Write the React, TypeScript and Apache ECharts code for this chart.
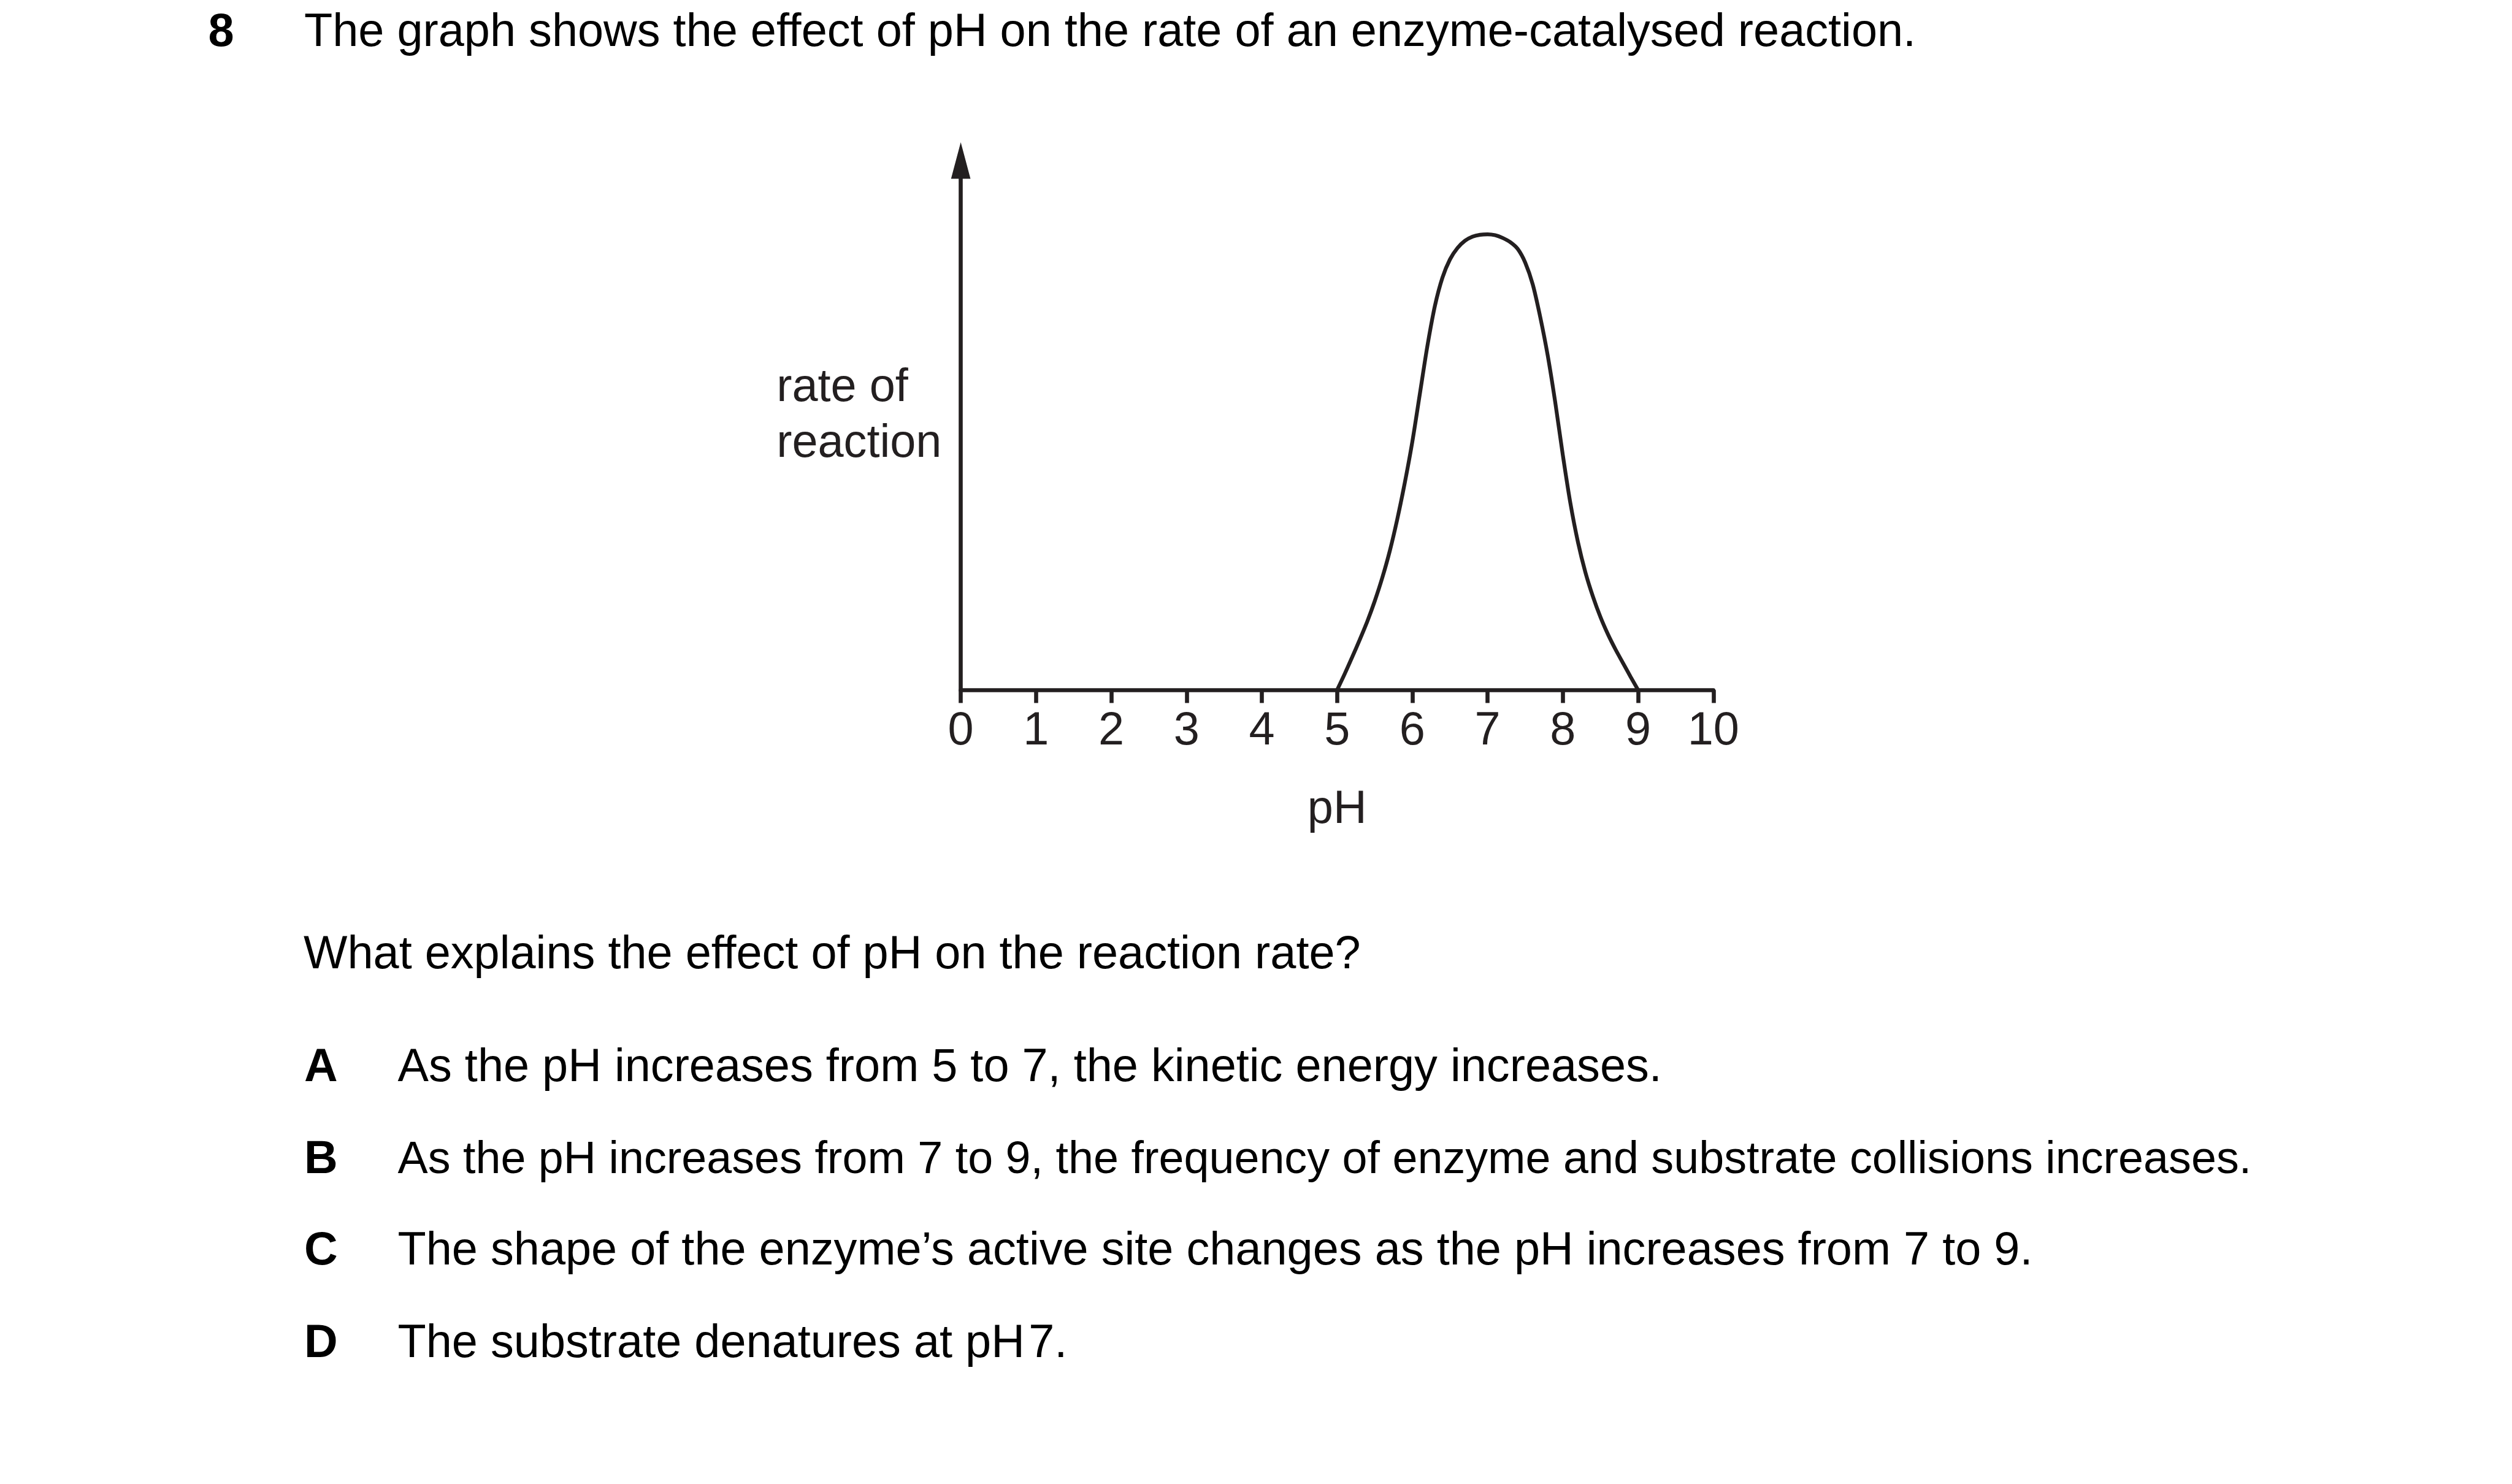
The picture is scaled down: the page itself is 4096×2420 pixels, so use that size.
import React, { useEffect, useRef } from 'react';
import * as echarts from 'echarts';

// ---- data ----
const phMin = 0;
const phMax = 10;
const phInterval = 1;
const rateMax = 116.2; // top of the rate axis (arrow), peak rate = 100

const curvePH = [
  5.0, 5.1, 5.2, 5.3, 5.4, 5.5, 5.6, 5.7, 5.8, 5.9, 6.0, 6.1, 6.2, 6.3, 6.4, 6.5, 6.6, 6.7, 6.8, 6.9,
  7.0,
  7.1, 7.2, 7.3, 7.4, 7.5, 7.6, 7.7, 7.8, 7.9, 8.0, 8.1, 8.2, 8.3, 8.4, 8.5, 8.6, 8.7, 8.8, 8.9, 9.0,
];
const curveRate = [
  0, 3.5, 7.2, 11.0, 15.0, 19.5, 24.6, 30.5, 37.5, 45.5, 54.5, 65.0, 75.5, 84.3, 90.5, 94.5, 97.0, 98.6, 99.5, 99.9,
  100,
  99.8, 99.2, 98.3, 96.8, 93.8, 89.0, 81.8, 73.3, 63.0, 51.5, 41.0, 32.5, 25.8, 20.5, 16.0, 12.2, 8.9, 5.9, 2.9, 0,
];

const questionNumber = '8';
const questionTitle = 'The graph shows the effect of pH on the rate of an enzyme-catalysed reaction.';
const yAxisLabel = 'rate of\nreaction';
const xAxisLabel = 'pH';
const prompt = 'What explains the effect of pH on the reaction rate?';
const optionLetters = ['A', 'B', 'C', 'D'];
const optionTexts = [
  'As the pH increases from 5 to 7, the kinetic energy increases.',
  'As the pH increases from 7 to 9, the frequency of enzyme and substrate collisions increases.',
  'The shape of the enzyme\u2019s active site changes as the pH increases from 7 to 9.',
  'The substrate denatures at pH\u200a7.',
];

// ---- layout / style ----
const W = 4096;
const H = 2420;
const FONT = '"Liberation Sans", Arial, Helvetica, sans-serif';
const FS = 75.7;
const FS_B = 73.7;
const CENTRAL = 0.3465; // central baseline offset (em) above alphabetic baseline
const INK = '#231f20';
const TEXT = '#000000';

const gridLeft = 1566.6;
const gridRightX = 2793.8;
const axisY = 1125.3;
const gridTopY = 261.7;

function txt(x: number, baseline: number, text: string, opts: any = {}) {
  const fs = opts.fontSize || FS;
  return {
    type: 'text',
    x,
    y: baseline - CENTRAL * fs,
    silent: true,
    style: {
      text,
      fontSize: fs,
      fontFamily: FONT,
      fontWeight: opts.fontWeight || 'normal',
      fill: opts.fill || TEXT,
      align: 'left',
      verticalAlign: 'middle',
      textAlign: 'left',
      textVerticalAlign: 'middle',
    },
  };
}

export default function App() {
  const ref = useRef<HTMLDivElement>(null);

  useEffect(() => {
    if (!ref.current) return;
    const chart = echarts.init(ref.current, undefined, { renderer: 'svg', width: W, height: H });

    const answerBaselines = [1763.2, 1912.7, 2062.2, 2212.7];
    const graphics: any[] = [
      txt(339.6, 74.25, questionNumber, { fontWeight: 'bold' }),
      txt(496, 74.25, questionTitle),
      {
        type: 'text',
        x: 1266.2,
        y: (654.1 + 745.2) / 2 - CENTRAL * FS,
        silent: true,
        style: {
          text: yAxisLabel,
          fontSize: FS,
          lineHeight: 91.1,
          fontFamily: FONT,
          fill: INK,
          align: 'left',
          verticalAlign: 'middle',
          textAlign: 'left',
          textVerticalAlign: 'middle',
        },
      },
      txt(495, 1579, prompt),
    ];
    optionLetters.forEach((l, i) => {
      graphics.push(txt(496, answerBaselines[i], l, { fontWeight: 'bold' }));
      const fs = i === 1 ? FS_B : FS;
      graphics.push(txt(648.5, answerBaselines[i], optionTexts[i], { fontSize: fs }));
    });

    const data = curvePH.map((p, i) => [p, curveRate[i]]);

    chart.setOption({
      animation: false,
      backgroundColor: '#ffffff',
      grid: {
        left: gridLeft,
        right: W - gridRightX,
        top: gridTopY,
        bottom: H - axisY,
        containLabel: false,
        outerBoundsMode: 'none',
      },
      xAxis: {
        type: 'value',
        min: phMin,
        max: phMax,
        interval: phInterval,
        name: xAxisLabel,
        nameLocation: 'middle',
        nameGap: 152.3,
        nameMoveOverlap: false,
        nameTextStyle: { fontSize: FS, fontFamily: FONT, color: INK, lineHeight: FS },
        axisLine: { show: true, onZero: false, lineStyle: { color: INK, width: 6.6 } },
        axisTick: { show: true, length: 21.1, lineStyle: { color: INK, width: 6.6 } },
        axisLabel: {
          show: true,
          margin: 24.4,
          fontSize: FS,
          fontFamily: FONT,
          color: INK,
          lineHeight: FS,
          showMinLabel: true,
          showMaxLabel: true,
          hideOverlap: false,
        },
        splitLine: { show: false },
      },
      yAxis: {
        type: 'value',
        min: 0,
        max: rateMax,
        axisLine: {
          show: true,
          onZero: false,
          symbol: ['none', 'triangle'],
          symbolSize: [31.7, 59.4],
          lineStyle: { color: INK, width: 6.6 },
        },
        axisTick: { show: false },
        axisLabel: { show: false },
        splitLine: { show: false },
      },
      series: [
        {
          type: 'line',
          data,
          smooth: 0.3,
          symbol: 'none',
          clip: false,
          lineStyle: { color: INK, width: 6.2 },
          z: 3,
        },
      ],
      graphic: graphics,
    });

    return () => chart.dispose();
  }, []);

  return (
    <div
      ref={ref}
      style={{ position: 'fixed', left: 0, top: 0, width: W, height: H, background: '#fff' }}
    />
  );
}
